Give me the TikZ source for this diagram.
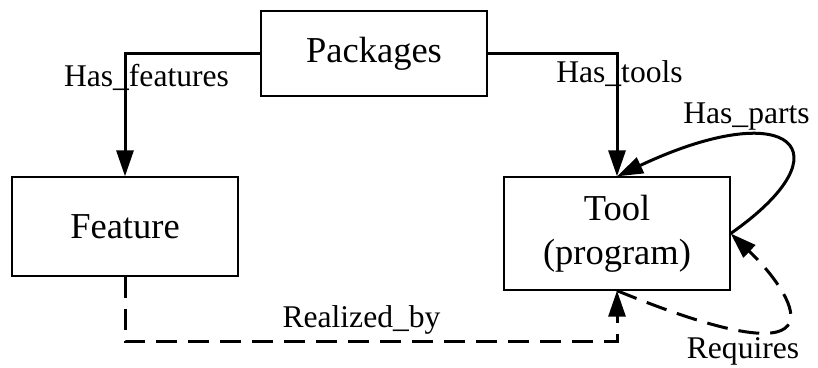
\documentclass[tikz,border=0pt]{standalone}
\usepackage{fontspec}
\setmainfont{Liberation Serif}
\usetikzlibrary{arrows.meta}
\begin{document}
\begin{tikzpicture}[x=1pt,y=-1pt,
  box/.style={draw,line width=1.3pt,rectangle,inner sep=0pt,align=center,
    font=\fontsize{36.5}{44}\selectfont},
  rel/.style={line width=3pt,-{Triangle[length=26pt,width=17pt]}},
  reldash/.style={rel,dash pattern=on 21pt off 11pt},
  lbl/.style={inner sep=0pt,anchor=base,font=\fontsize{31.6}{36}\selectfont}]
\useasboundingbox (0,0) rectangle (818,367);

% entities
\node[box,minimum width=226pt,minimum height=85pt] (pkg) at (374,53.5) {Packages};
\node[box,minimum width=226pt,minimum height=99pt] (feat) at (125,226.5) {Feature};
\node[box,minimum width=226pt,minimum height=113pt] (tool) at (617,233.5) {Tool\\(program)};

% relations
\draw[rel] (pkg.west) -| (feat.north);
\draw[rel] (pkg.east) -| (tool.north);
\draw[rel] (tool.east) .. controls (850,150) and (790,95) .. (tool.north);
\draw[reldash] (feat.south) -- ++(0,65) -| (tool.south);
\draw[reldash] (tool.south) .. controls (860,390) and (790,290) .. (tool.east);

% relation labels
\node[lbl] (lfeat) at (146.5,86) {Has\_features};
\node[lbl] (ltools) at (619.5,82) {Has\_tools};
\node[lbl] (lparts) at (746.5,123) {Has\_parts};
\node[lbl] (lreal) at (361.5,327) {Realized\_by};
\node[lbl] (lreq) at (743,358) {Requires};
\end{tikzpicture}
\end{document}
